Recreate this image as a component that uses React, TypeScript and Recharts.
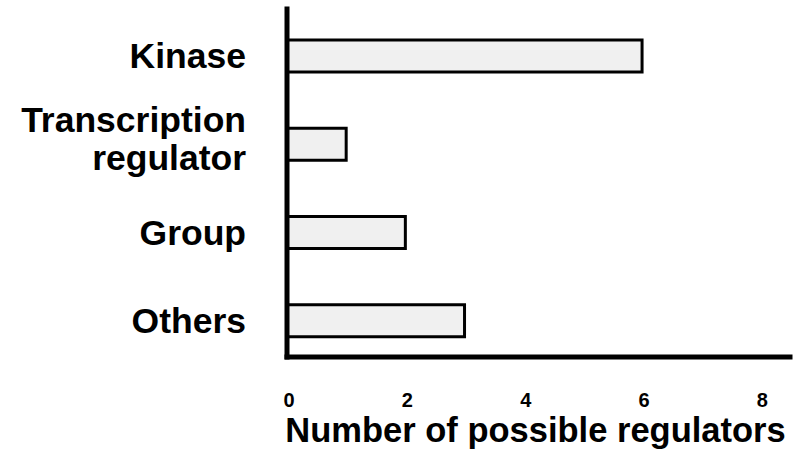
import { BarChart, Bar, XAxis, YAxis } from "recharts";

const categories = ["Kinase", "Transcription regulator", "Group", "Others"];
const counts = [6, 1, 2, 3];
const xTicks = [0, 2, 4, 6, 8];

const data = categories.map((name, i) => ({ name, value: counts[i] }));

const FONT = "'Liberation Sans', Arial, sans-serif";

function CategoryTick(props: any) {
  const { x, y, payload } = props;
  const label: string = payload.value;
  const lx = x - 33;
  if (label === "Transcription regulator") {
    return (
      <text x={lx} y={y} textAnchor="end" fontFamily={FONT} fontWeight="bold" fontSize={35.5} fill="#000">
        <tspan x={lx} dy={-12}>Transcription</tspan>
        <tspan x={lx} dy={38}>regulator</tspan>
      </text>
    );
  }
  return (
    <text x={lx} y={y + 12} textAnchor="end" fontFamily={FONT} fontWeight="bold" fontSize={35.5} fill="#000">
      {label}
    </text>
  );
}

function ValueTick(props: any) {
  const { x, y, payload } = props;
  return (
    <text x={x + 2} y={y + 42} textAnchor="middle" fontFamily={FONT} fontWeight="bold" fontSize={20} fill="#000">
      {payload.value}
    </text>
  );
}

function AxisTitle(props: any) {
  const { viewBox } = props;
  return (
    <text
      x={viewBox.x + viewBox.width / 2 - 3}
      y={442}
      textAnchor="middle"
      fontFamily={FONT}
      fontWeight="bold"
      fontSize={34.5}
      fill="#000"
    >
      Number of possible regulators
    </text>
  );
}

export default function App() {
  return (
    <div style={{ position: "absolute", left: 0, top: 0, background: "#fff" }}>
      <BarChart
        width={809}
        height={450}
        data={data}
        layout="vertical"
        margin={{ top: 9, right: 19, bottom: 0, left: 0 }}
      >
        <XAxis
          type="number"
          domain={[0, 8.5]}
          ticks={xTicks}
          allowDataOverflow
          height={93}
          axisLine={{ stroke: "#000", strokeWidth: 5, strokeLinecap: "square" }}
          tickLine={false}
          tick={<ValueTick />}
          label={<AxisTitle />}
        />
        <YAxis
          type="category"
          dataKey="name"
          width={287}
          padding={{ top: 3, bottom: -8 }}
          axisLine={{ stroke: "#000", strokeWidth: 5, strokeLinecap: "square" }}
          tickLine={false}
          tick={<CategoryTick />}
          interval={0}
        />
        <Bar
          dataKey="value"
          fill="#f0f0f0"
          stroke="#000"
          strokeWidth={3}
          barSize={32}
          isAnimationActive={false}
        />
      </BarChart>
    </div>
  );
}
